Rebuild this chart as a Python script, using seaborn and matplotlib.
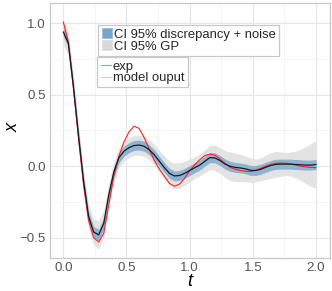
import numpy as np
import pandas as pd
import matplotlib
matplotlib.use("Agg")
import matplotlib.pyplot as plt
import seaborn as sns
from matplotlib.patches import Patch
from matplotlib.lines import Line2D
from matplotlib.ticker import MultipleLocator

# ---------------- data ----------------
t = [round(0.04 * i, 2) for i in range(51)]

exp_x = [0.94, 0.86, 0.56, 0.22, -0.10, -0.35, -0.46, -0.48, -0.40, -0.20,
         -0.04, 0.06, 0.105, 0.13, 0.145, 0.148, 0.14, 0.115, 0.08, 0.035,
         -0.01, -0.05, -0.068, -0.065, -0.05, -0.03, -0.01, 0.008, 0.035, 0.06,
         0.058, 0.04, 0.015, 0.0, -0.008, -0.012, -0.018, -0.028, -0.03, -0.022,
         -0.008, 0.005, 0.013, 0.015, 0.015, 0.015, 0.012, 0.01, 0.008, 0.008,
         0.012]

model_x = [1.01, 0.87, 0.55, 0.20, -0.13, -0.38, -0.50, -0.53, -0.47, -0.27,
           -0.07, 0.07, 0.17, 0.24, 0.28, 0.265, 0.20, 0.12, 0.04, -0.02,
           -0.07, -0.12, -0.14, -0.125, -0.085, -0.03, 0.01, 0.045, 0.075, 0.085,
           0.078, 0.05, 0.02, -0.008, -0.02, -0.03, -0.035, -0.037, -0.03, -0.015,
           0.0, 0.012, 0.02, 0.022, 0.02, 0.015, 0.008, 0.0, -0.005, -0.008,
           -0.01]

gp_half = [0.09, 0.085, 0.08, 0.08, 0.08, 0.085, 0.09, 0.10, 0.095, 0.08,
           0.075, 0.07, 0.07, 0.07, 0.07, 0.07, 0.07, 0.07, 0.072, 0.075,
           0.08, 0.085, 0.09, 0.09, 0.085, 0.08, 0.075, 0.075, 0.08, 0.085,
           0.09, 0.09, 0.095, 0.10, 0.10, 0.095, 0.09, 0.085, 0.08, 0.08,
           0.085, 0.09, 0.09, 0.085, 0.08, 0.085, 0.095, 0.11, 0.13, 0.15,
           0.165]

disc_half = [0.03, 0.03, 0.03, 0.03, 0.032, 0.035, 0.038, 0.04, 0.038, 0.035,
             0.035, 0.035, 0.035, 0.035, 0.035, 0.035, 0.035, 0.035, 0.035, 0.035,
             0.035, 0.035, 0.035, 0.035, 0.035, 0.035, 0.035, 0.035, 0.035, 0.035,
             0.035, 0.035, 0.035, 0.035, 0.035, 0.035, 0.035, 0.035, 0.035, 0.035,
             0.035, 0.035, 0.035, 0.035, 0.035, 0.035, 0.035, 0.035, 0.035, 0.035,
             0.035]

x_ticks = [0.0, 0.5, 1.0, 1.5, 2.0]
y_ticks = [-0.5, 0.0, 0.5, 1.0]

legend_fill_labels = ["CI 95% discrepancy + noise", "CI 95% GP"]
legend_line_labels = ["exp", "model ouput"]

df = pd.DataFrame({"t": t, "exp": exp_x, "model": model_x,
                   "gp": gp_half, "disc": disc_half})

# ---------------- plot ----------------
sns.set_theme(style="white")
plt.rcParams["font.family"] = ["Liberation Sans", "DejaVu Sans"]

fig = plt.figure(figsize=(3.32, 2.91), dpi=100)
ax = fig.add_axes([50 / 332, 1 - 258 / 291, 280 / 332, 255 / 291])

ax.fill_between(df["t"], df["exp"] - df["gp"], df["exp"] + df["gp"],
                color="#e3e3e3", linewidth=0, zorder=2)
ax.fill_between(df["t"], df["exp"] - df["disc"], df["exp"] + df["disc"],
                color="#8eb3d0", linewidth=0, zorder=3)
sns.lineplot(data=df, x="t", y="model", color="#ff2020", linewidth=0.8,
             ax=ax, zorder=4)
sns.lineplot(data=df, x="t", y="exp", color="#151a22", linewidth=0.9,
             ax=ax, zorder=5)

ax.set_xlim(-0.105, 2.11)
ax.set_ylim(-0.642, 1.142)
ax.set_xticks(x_ticks)
ax.set_yticks(y_ticks)
ax.set_xticklabels([f"{v:.1f}" for v in x_ticks])
ax.set_yticklabels([f"{v:.1f}".replace("-", "\u2212") for v in y_ticks])
ax.xaxis.set_minor_locator(MultipleLocator(0.25))
ax.yaxis.set_minor_locator(MultipleLocator(0.25))
ax.grid(True, which="major", color="#e6e6e6", linewidth=0.8, zorder=0)
ax.grid(True, which="minor", color="#f2f2f2", linewidth=0.6, zorder=0)
ax.set_axisbelow(True)
ax.tick_params(axis="both", which="both", length=0, labelsize=9.6,
               labelcolor="#555555", pad=3)
for s in ax.spines.values():
    s.set_color("#c8c8c8")
    s.set_linewidth(0.9)

ax.set_xlabel("t", fontsize=13, style="italic", color="black")
ax.set_ylabel("x", fontsize=13, style="italic", color="black")
ax.xaxis.label.set_va("center")
ax.yaxis.label.set_va("center")
ax.xaxis.set_label_coords((63.3 - 50) / 280 + 2.0 * 126.2 / 280 / 2, (258 - 281) / 255)
ax.yaxis.set_label_coords((13 - 50) / 280, (258 - 128) / 255)

h1 = [Patch(facecolor="#72a7d2", edgecolor="#9ab4c8", linewidth=0.5),
      Patch(facecolor="#d8d8d8", edgecolor="#c0c0c0", linewidth=0.5,
            linestyle=":")]
leg1 = ax.legend(h1, legend_fill_labels, loc="upper left",
                 bbox_to_anchor=(0.1725, 0.914), borderaxespad=0,
                 fontsize=9.4, frameon=True, fancybox=False,
                 edgecolor="#c8c8c8", framealpha=1, borderpad=0.25,
                 handlelength=0.8, handleheight=0.8, handletextpad=0.15,
                 labelspacing=-0.05)
leg1.get_frame().set_linewidth(0.9)
ax.add_artist(leg1)

h2 = [Line2D([], [], color="#7ea9cf", linewidth=0.8),
      Line2D([], [], color="#cfcfcf", linewidth=0.8)]
leg2 = ax.legend(h2, legend_line_labels, loc="upper left",
                 bbox_to_anchor=(0.169, 0.787), borderaxespad=0,
                 fontsize=9.4, frameon=True, fancybox=False,
                 edgecolor="#c8c8c8", framealpha=1, borderpad=0.25,
                 handlelength=0.8, handletextpad=0.15, labelspacing=-0.05)
leg2.get_frame().set_linewidth(0.9)

fig.savefig("out.png", dpi=100)
